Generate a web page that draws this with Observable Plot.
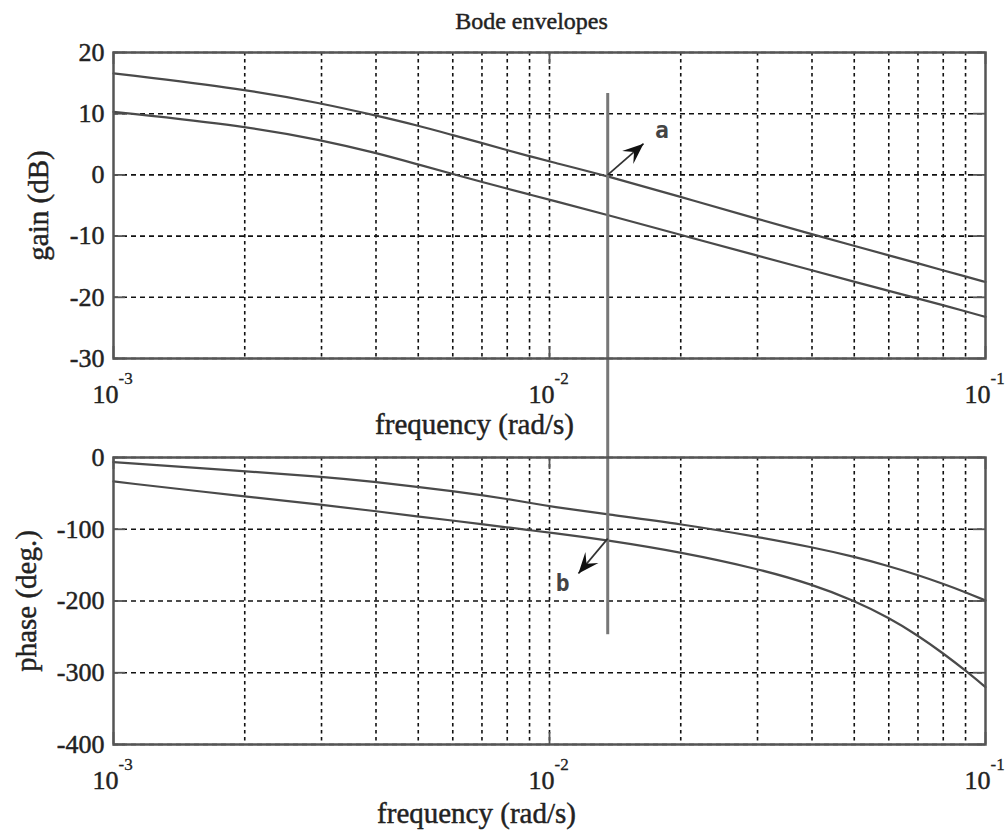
<!DOCTYPE html>
<html>
<head>
<meta charset="utf-8">
<script src="https://cdn.jsdelivr.net/npm/d3@7"></script>
<script src="https://cdn.jsdelivr.net/npm/@observablehq/plot@0.6"></script>
<style>
  html, body { margin: 0; padding: 0; background: #fff; }
  #fig { position: relative; width: 1007px; height: 834px; overflow: hidden; background: #fff; }
  #fig svg { position: absolute; left: 0; overflow: visible; }
</style>
</head>
<body>
<div id="fig"></div>
<script>
// Frequency samples (rad/s) at which the envelopes are tabulated
const freq = [0.001, 0.002, 0.003, 0.004, 0.005, 0.006, 0.007, 0.008, 0.009, 0.01,
              0.0136, 0.02, 0.03, 0.04, 0.05, 0.06, 0.07, 0.08, 0.09, 0.1];

// Gain envelopes (dB)
const gainUpper = [16.6, 14.0, 11.7, 9.7, 8.05, 6.5, 5.2, 4.05, 3.05, 2.2,
                   -0.2, -3.6, -7.2, -9.7, -11.6, -13.15, -14.45, -15.6, -16.6, -17.5];
const gainLower = [10.3, 8.0, 5.7, 3.6, 1.7, 0.15, -1.15, -2.25, -3.2, -4.05,
                   -6.55, -9.8, -13.2, -15.6, -17.45, -18.95, -20.2, -21.3, -22.3, -23.2];

// Phase envelopes (deg.)
const phaseUpper = [-6.5, -19.0, -26.8, -34.2, -41.0, -46.8, -52.6, -57.8, -63.2, -68.0,
                    -79.4, -92.6, -110.5, -125, -138.3, -151.2, -163.8, -176, -187.7, -199.3];
const phaseLower = [-33.4, -54.4, -65.8, -74.8, -82.3, -87.9, -92.9, -97.4, -101.3, -104.5,
                    -115.2, -131.9, -154.8, -176.7, -199.5, -223.2, -248, -273, -297, -320];

// Axes: decade ticks, log grid, value ticks
const freqDecades = [0.001, 0.01, 0.1];
const freqDecadeExponents = ["-3", "-2", "-1"];
const freqGrid = [0.002, 0.003, 0.004, 0.005, 0.006, 0.007, 0.008, 0.009,
                  0.01, 0.02, 0.03, 0.04, 0.05, 0.06, 0.07, 0.08, 0.09];
const gainTicks = [20, 10, 0, -10, -20, -30];
const phaseTicks = [0, -100, -200, -300, -400];
const gainDomain = [-30, 20];
const phaseDomain = [-400, 0];
const freqDomain = [0.001, 0.1];

// Marker line at the examined frequency, with its two annotations
const markerFreq = 0.0136;
const markerGainTop = 13.3;
const markerPhaseBottom = -247;
const arrowA = {x1: 0.0136, y1: 0, x2: 0.01643, y2: 5.1};
const arrowB = {x1: 0.0136, y1: -113, x2: 0.01165, y2: -161.7};
const labelA = {f: 0.0181, v: 7.2, text: "a"};
const labelB = {f: 0.01072, v: -175.6, text: "b"};

const gainRows = freq.map((f, i) => ({f, upper: gainUpper[i], lower: gainLower[i]}));
const phaseRows = freq.map((f, i) => ({f, upper: phaseUpper[i], lower: phaseLower[i]}));

// Layout
const W = 1007;
const mL = 113, mR = 22;
const topH = 457, topMT = 52, topMB = 99;
const botH = 377, botMT = 0, botMB = 90;
const frameW = W - mL - mR;
const topFrameH = topH - topMT - topMB;
const botFrameH = botH - botMT - botMB;

const serif = "'Liberation Serif', 'Times New Roman', serif";
const ink = "#222";
const curveColor = "#4a4a4a";
const gridColor = "#111";
const frameColor = "#555";
// light outline that gives the labels a slightly heavier print weight
const textWeight = {stroke: ink, strokeWidth: 0.45};

// Pixel mappings mirroring the Plot scales (used for arrowhead direction and the marker join)
const xPix = d3.scaleLog().domain(freqDomain).range([mL, W - mR]);
const gainPix = d3.scaleLinear().domain(gainDomain).range([topH - topMB, topMT]);
const phasePix = d3.scaleLinear().domain(phaseDomain).range([botH - botMB, botMT]);
const gainAtTopEdge = gainPix.invert(topH);

// Filled barbed arrowhead whose tip sits on the data point
function headSymbol(a, yPix) {
  const dx = xPix(a.x2) - xPix(a.x1), dy = yPix(a.y2) - yPix(a.y1);
  const n = Math.hypot(dx, dy), ux = dx / n, uy = dy / n;
  const len = 21, half = 8.5;
  const pt = (p, q) => [p * ux - q * uy, p * uy + q * ux];
  return {
    draw(ctx) {
      const pts = [pt(0, 0), pt(-len, half), pt(-0.6 * len, 0), pt(-len, -half)];
      ctx.moveTo(pts[0][0], pts[0][1]);
      for (let i = 1; i < pts.length; ++i) ctx.lineTo(pts[i][0], pts[i][1]);
      ctx.closePath();
    }
  };
}

function gridMarks(yTicks, fh) {
  return [
    Plot.ruleY(yTicks, {stroke: gridColor, strokeWidth: 1.6, strokeDasharray: "5,4"}),
    Plot.ruleX(freqGrid, {stroke: gridColor, strokeWidth: 1.6, strokeDasharray: "3.5,3.5"}),
    // inward tick marks on all four sides
    Plot.ruleX(freqDecades, {stroke: frameColor, strokeWidth: 1.8, insetTop: fh - 12}),
    Plot.ruleX(freqDecades, {stroke: frameColor, strokeWidth: 1.8, insetBottom: fh - 12}),
    Plot.ruleY(yTicks, {stroke: frameColor, strokeWidth: 1.8, insetRight: frameW - 12}),
    Plot.ruleY(yTicks, {stroke: frameColor, strokeWidth: 1.8, insetLeft: frameW - 12})
  ];
}

function xTickLabels(dyBase) {
  return [
    Plot.text(freqDecades, {x: d => d, text: () => "10", frameAnchor: "bottom", dy: dyBase, dx: 5,
      textAnchor: "end", lineAnchor: "bottom", fontSize: 26, fontFamily: serif, fill: ink, ...textWeight}),
    Plot.text(freqDecades, {x: d => d, text: (d, i) => freqDecadeExponents[i], frameAnchor: "bottom",
      dy: dyBase - 19, dx: 5, textAnchor: "start", lineAnchor: "bottom", fontSize: 17, fontFamily: serif,
      fill: ink, stroke: ink, strokeWidth: 0.3})
  ];
}

function yTickLabels(ticks) {
  return Plot.text(ticks, {y: d => d, text: d => String(d), frameAnchor: "left", dx: -9,
    textAnchor: "end", lineAnchor: "middle", fontSize: 26, fontFamily: serif, fill: ink, ...textWeight});
}

function yAxisLabel(label, dx) {
  return Plot.text([label], {frameAnchor: "left", dx, rotate: -90, textAnchor: "middle",
    lineAnchor: "bottom", fontSize: 29, fontFamily: serif, fill: ink, ...textWeight});
}

function xAxisLabel(dx, dy) {
  return Plot.text(["frequency (rad/s)"], {frameAnchor: "bottom", dx, dy, lineAnchor: "bottom",
    fontSize: 29, fontFamily: serif, fill: ink, ...textWeight});
}

const common = {
  width: W, marginLeft: mL, marginRight: mR,
  x: {type: "log", domain: freqDomain, axis: null},
  style: {background: "transparent", overflow: "visible", color: ink}
};

const gainPlot = Plot.plot({
  ...common,
  height: topH, marginTop: topMT, marginBottom: topMB,
  y: {domain: gainDomain, axis: null},
  marks: [
    ...gridMarks(gainTicks, topFrameH),
    Plot.line(gainRows, {x: "f", y: "upper", curve: "basis", stroke: curveColor, strokeWidth: 2.2}),
    Plot.line(gainRows, {x: "f", y: "lower", curve: "basis", stroke: curveColor, strokeWidth: 2.2}),
    Plot.ruleX([markerFreq], {y1: markerGainTop, y2: gainAtTopEdge, stroke: "#777", strokeWidth: 3}),
    Plot.frame({stroke: frameColor, strokeWidth: 2.5}),
    Plot.link([arrowA], {x1: "x1", y1: "y1", x2: "x2", y2: "y2", stroke: "#333", strokeWidth: 1.8}),
    Plot.dot([arrowA], {x: "x2", y: "y2", r: 5, symbol: headSymbol(arrowA, gainPix), fill: "#111", stroke: "none"}),
    Plot.text([labelA], {x: "f", y: "v", text: "text", fontSize: 23, fontWeight: "bold",
      fontFamily: "'DejaVu Sans Mono', monospace", fill: "#444", lineAnchor: "middle"}),
    yTickLabels(gainTicks),
    ...xTickLabels(44),
    xAxisLabel(-75, 75),
    yAxisLabel("gain (dB)", -66),
    Plot.text(["Bode envelopes"], {frameAnchor: "top", dx: -18, dy: -24, lineAnchor: "bottom",
      fontSize: 24, fontFamily: serif, fill: ink, ...textWeight})
  ]
});

const phasePlot = Plot.plot({
  ...common,
  height: botH, marginTop: botMT, marginBottom: botMB,
  y: {domain: phaseDomain, axis: null},
  marks: [
    ...gridMarks(phaseTicks, botFrameH),
    Plot.line(phaseRows, {x: "f", y: "upper", curve: "basis", stroke: curveColor, strokeWidth: 2.2}),
    Plot.line(phaseRows, {x: "f", y: "lower", curve: "basis", stroke: curveColor, strokeWidth: 2.2}),
    Plot.ruleX([markerFreq], {y1: 0, y2: markerPhaseBottom, stroke: "#777", strokeWidth: 3}),
    Plot.frame({stroke: frameColor, strokeWidth: 2.5}),
    Plot.link([arrowB], {x1: "x1", y1: "y1", x2: "x2", y2: "y2", stroke: "#333", strokeWidth: 1.8}),
    Plot.dot([arrowB], {x: "x2", y: "y2", r: 5, symbol: headSymbol(arrowB, phasePix), fill: "#111", stroke: "none"}),
    Plot.text([labelB], {x: "f", y: "v", text: "text", fontSize: 23, fontWeight: "bold",
      fontFamily: "'DejaVu Sans Mono', monospace", fill: "#444", lineAnchor: "middle"}),
    yTickLabels(phaseTicks),
    ...xTickLabels(44),
    xAxisLabel(-73, 78),
    yAxisLabel("phase (deg.)", -78)
  ]
});

const fig = document.getElementById("fig");
gainPlot.style.top = "0px";
phasePlot.style.top = topH + "px";
fig.appendChild(gainPlot);
fig.appendChild(phasePlot);
</script>
</body>
</html>
